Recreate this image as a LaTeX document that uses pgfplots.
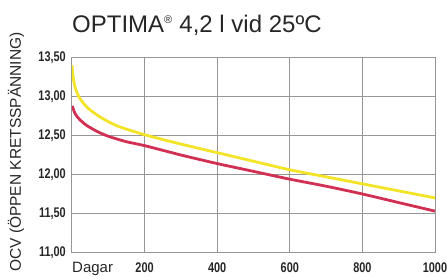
\documentclass[border=0pt]{standalone}
\usepackage{fontspec}
\setmainfont{Liberation Sans}
\newfontfamily\tickfont[FakeStretch=0.78]{Liberation Sans}
\usepackage{pgfplots}
\pgfplotsset{compat=1.18}
\definecolor{cyel}{RGB}{243,228,40}
\definecolor{cred}{RGB}{210,48,82}
\definecolor{cgrid}{RGB}{150,150,150}
\begin{document}
\begin{tikzpicture}
\path[use as bounding box] (-72pt,-23.5pt) rectangle (375pt,252.5pt);
\begin{axis}[
  at={(0pt,0pt)}, anchor=south west,
  scale only axis, width=363pt, height=195pt,
  xmin=0, xmax=1000, ymin=11, ymax=13.5,
  xtick={0,200,400,600,800,1000},
  xticklabels={,200,400,600,800,1000},
  ytick={11,11.5,12,12.5,13,13.5},
  yticklabels={{11,00},{11,50},{12,00},{12,50},{13,00},{13,50}},
  major tick length=0pt,
  grid=major,
  grid style={cgrid, line width=1pt},
  axis line style={cgrid, line width=1pt},
  xticklabel style={font=\fontsize{14}{14}\selectfont\tickfont\bfseries, text=black!85, inner sep=0pt, anchor=north, yshift=-10pt},
  yticklabel style={font=\fontsize{14}{14}\selectfont\tickfont\bfseries, text=black!85, inner sep=0pt, anchor=east, xshift=-6pt},
]
\addplot[cyel, line width=2.8pt, smooth, tension=0.4] coordinates {
(0,13.40) (3,13.25) (9,13.11) (21,12.98) (44,12.85) (80,12.73) (126,12.62) (200,12.51) (300,12.39) (400,12.28) (500,12.17) (600,12.06) (700,11.97) (800,11.88) (900,11.79) (1000,11.70)
};
\addplot[cred, line width=2.8pt, smooth, tension=0.4] coordinates {
(1,12.88) (5,12.82) (10,12.77) (20,12.71) (40,12.63) (70,12.55) (100,12.49) (150,12.42) (200,12.37) (300,12.25) (400,12.14) (500,12.04) (600,11.94) (700,11.85) (800,11.75) (900,11.64) (1000,11.53)
};
\end{axis}
\node[anchor=base west, inner sep=0pt, font=\fontsize{24}{28}\selectfont, text=black!85] at (0pt,219.5pt) {OPTIMA\textsuperscript{\fontsize{11}{11}\selectfont ®} 4,2 l vid 25ºC};
\node[anchor=base west, inner sep=0pt, font=\fontsize{15}{15}\selectfont, text=black!85] at (0pt,-20pt) {Dagar};
\node[rotate=90, anchor=base west, inner sep=0pt, font=\fontsize{15.5}{15.5}\selectfont, text=black!85] at (-51pt,-19.5pt) {OCV (ÖPPEN KRETSSPÄNNING)};
\end{tikzpicture}
\end{document}
